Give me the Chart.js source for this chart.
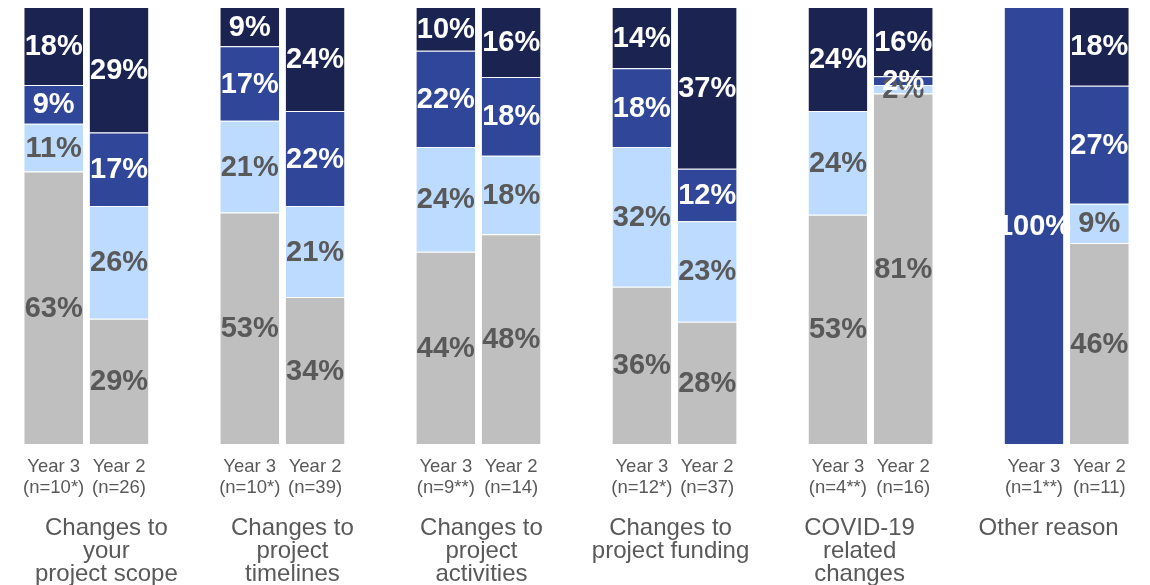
<!DOCTYPE html>
<html>
<head>
<meta charset="utf-8">
<script src="https://cdn.jsdelivr.net/npm/chart.js@4/dist/chart.umd.min.js"></script>
<style>
  body { margin: 0; background: #fff; }
  #wrap { width: 1150px; height: 585px; position: relative; }
</style>
</head>
<body>
<div id="wrap"><canvas id="reason-chart"></canvas></div>
<script>
// reasons (one group of two bars each)
const groupNames = [
  ['Changes to', 'your', 'project scope'],
  ['Changes to', 'project', 'timelines'],
  ['Changes to', 'project', 'activities'],
  ['Changes to', 'project funding'],
  ['COVID-19', 'related', 'changes'],
  ['Other reason']
];
const sizesYear3 = ['(n=10*)', '(n=10*)', '(n=9**)', '(n=12*)', '(n=4**)', '(n=1**)'];
const sizesYear2 = ['(n=26)', '(n=39)', '(n=14)', '(n=37)', '(n=16)', '(n=11)'];

// segment values, bottom to top
const greyYear3  = [63, 53, 44, 36, 53, 0];
const greyYear2  = [29, 34, 48, 28, 81, 46];
const lightYear3 = [11, 21, 24, 32, 24, 0];
const lightYear2 = [26, 21, 18, 23, 2, 9];
const midYear3   = [9, 17, 22, 18, 0, 100];
const midYear2   = [17, 22, 18, 12, 2, 27];
const darkYear3  = [18, 9, 10, 14, 24, 0];
const darkYear2  = [29, 24, 16, 37, 16, 18];

const FONT = '"Liberation Sans", Arial, sans-serif';
const TEXT_GREY = '#595959';

// build slot list: Year 3, Year 2, spacer for each group
const slotLabels = [];
groupNames.forEach((g, i) => {
  slotLabels.push(['Year 3', sizesYear3[i]]);
  slotLabels.push(['Year 2', sizesYear2[i]]);
  if (i < groupNames.length - 1) slotLabels.push('');
});

const series = [
  { y3: greyYear3, y2: greyYear2, color: '#bfbfbf', text: TEXT_GREY },
  { y3: lightYear3, y2: lightYear2, color: '#bddbff', text: TEXT_GREY },
  { y3: midYear3, y2: midYear2, color: '#2f4699', text: '#ffffff' },
  { y3: darkYear3, y2: darkYear2, color: '#1b2350', text: '#ffffff' }
];

function barTotal(year, i) {
  return series.reduce((s, ser) => s + ser[year][i], 0);
}

// raw values per slot (null on spacers), and normalised to 100%
const datasets = series.map(ser => {
  const raw = [];
  const data = [];
  groupNames.forEach((g, i) => {
    raw.push(ser.y3[i]);
    data.push(ser.y3[i] / barTotal('y3', i) * 100);
    raw.push(ser.y2[i]);
    data.push(ser.y2[i] / barTotal('y2', i) * 100);
    if (i < groupNames.length - 1) { raw.push(null); data.push(null); }
  });
  return {
    data: data,
    raw: raw,
    textColor: ser.text,
    backgroundColor: ser.color,
    borderColor: 'rgba(255,255,255,0.6)',
    borderWidth: { top: 1, left: 0, right: 0, bottom: 0 },
    borderSkipped: 'start',
    barPercentage: 0.9,
    categoryPercentage: 1
  };
});

const groupShift = [20, 10, 3, -4, -11, -18];

const valueLabels = {
  id: 'valueLabels',
  afterDatasetsDraw(chart) {
    const ctx = chart.ctx;
    ctx.save();
    ctx.font = 'bold 29px ' + FONT;
    ctx.textAlign = 'center';
    ctx.textBaseline = 'middle';
    chart.data.datasets.forEach((ds, di) => {
      chart.getDatasetMeta(di).data.forEach((el, i) => {
        const v = ds.raw[i];
        if (!v) return;
        ctx.fillStyle = ds.textColor;
        ctx.fillText(v + '%', el.x, (el.y + el.base) / 2 + 1);
      });
    });
    ctx.restore();
  }
};

const groupLabels = {
  id: 'groupLabels',
  afterDraw(chart) {
    const ctx = chart.ctx;
    const x = chart.scales.x;
    ctx.save();
    ctx.font = '24px ' + FONT;
    ctx.fillStyle = TEXT_GREY;
    ctx.textAlign = 'center';
    ctx.textBaseline = 'middle';
    groupNames.forEach((lines, i) => {
      const cx = (x.getPixelForValue(3 * i) + x.getPixelForValue(3 * i + 1)) / 2 + groupShift[i];
      lines.forEach((line, li) => {
        ctx.fillText(line, cx, 528 + li * 23);
      });
    });
    ctx.restore();
  }
};

new Chart(document.getElementById('reason-chart'), {
  type: 'bar',
  data: { labels: slotLabels, datasets: datasets },
  options: {
    responsive: true,
    maintainAspectRatio: false,
    animation: false,
    layout: { padding: { top: 7, left: 21, right: 18, bottom: 75 } },
    scales: {
      x: {
        stacked: true,
        grid: { display: false, drawTicks: false },
        border: { display: false },
        ticks: {
          color: TEXT_GREY,
          font: { family: FONT, size: 18.5, lineHeight: 1.13 },
          padding: 12,
          maxRotation: 0,
          autoSkip: false
        }
      },
      y: {
        stacked: true,
        display: false,
        min: 0,
        max: 100
      }
    },
    plugins: {
      legend: { display: false },
      tooltip: { enabled: false }
    }
  },
  plugins: [valueLabels, groupLabels]
});
</script>
</body>
</html>
